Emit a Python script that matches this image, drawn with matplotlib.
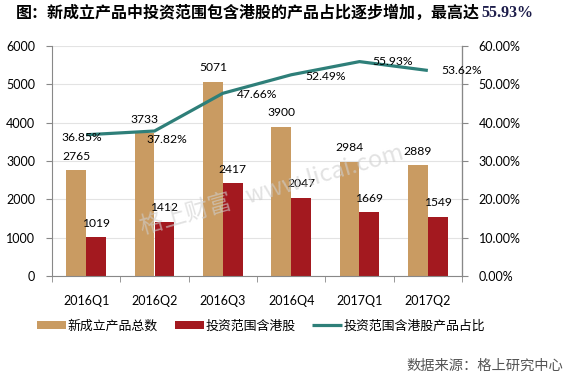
import numpy as np
import matplotlib
matplotlib.use('Agg')
import matplotlib.pyplot as plt
from matplotlib.ticker import FuncFormatter, FixedLocator

plt.rcParams['font.family'] = ['Noto Sans CJK SC', 'DejaVu Sans']

categories = ['2016Q1', '2016Q2', '2016Q3', '2016Q4', '2017Q1', '2017Q2']
new_products = [2765, 3733, 5071, 3900, 2984, 2889]
hk_products = [1019, 1412, 2417, 2047, 1669, 1549]
hk_share = [36.85, 37.82, 47.66, 52.49, 55.93, 53.62]

TAN = '#C99B62'
RED = '#A3191F'
TEAL = '#2E7F79'
NUM_FONT = ['Lato', 'DejaVu Sans']

fig = plt.figure(figsize=(5.67, 3.8), dpi=100)
ax = fig.add_axes([52 / 567, 1 - 276 / 380, 410 / 567, 230 / 380])
ax2 = ax.twinx()

x = np.arange(len(categories))
w = 0.29
bars1 = ax.bar(x - w / 2, new_products, w, color=TAN, label='新成立产品总数', zorder=2)
bars2 = ax.bar(x + w / 2, hk_products, w, color=RED, label='投资范围含港股', zorder=2)

ax.set_xlim(-0.5, len(categories) - 0.5)
ax.set_ylim(0, 6000)
ax.set_yticks(np.arange(0, 6001, 1000))
ax.grid(axis='y', color='#e3e3e3', linewidth=0.8, zorder=0)
ax.set_axisbelow(True)

ax.set_xticks(x)
ax.set_xticklabels(categories, fontsize=9, family=NUM_FONT)
ax.xaxis.set_minor_locator(FixedLocator(np.arange(-0.5, len(categories), 1)))
ax.tick_params(axis='x', which='major', length=0, pad=14)
ax.tick_params(axis='x', which='minor', length=4, color='#888888', direction='out')
ax.tick_params(axis='y', length=4, color='#888888', labelsize=9, pad=8)
for lab in ax.get_yticklabels():
    lab.set_family(NUM_FONT)

for s in ['top']:
    ax.spines[s].set_visible(False)
    ax2.spines[s].set_visible(False)
for s in ['left', 'bottom']:
    ax.spines[s].set_color('#888888')
ax2.spines['right'].set_color('#888888')
ax2.spines['left'].set_visible(False)
ax2.spines['bottom'].set_visible(False)

for b, v in zip(bars1, new_products):
    ax.annotate(str(v), (b.get_x() + b.get_width() / 2, v), xytext=(0, 10),
                textcoords='offset points', ha='center', va='center',
                fontsize=8.7, family=NUM_FONT)
for b, v in zip(bars2, hk_products):
    ax.annotate(str(v), (b.get_x() + b.get_width() / 2, v), xytext=(0, 10),
                textcoords='offset points', ha='center', va='center',
                fontsize=8.7, family=NUM_FONT)

line, = ax2.plot(x, hk_share, color=TEAL, linewidth=2.3, label='投资范围含港股产品占比',
                 solid_capstyle='butt', zorder=3)
ax2.set_ylim(0, 60)
ax2.set_yticks(np.arange(0, 61, 10))
ax2.yaxis.set_major_formatter(FuncFormatter(lambda v, p: '%.2f%%' % v))
ax2.tick_params(axis='y', length=4, color='#888888', labelsize=9, pad=8)
for lab in ax2.get_yticklabels():
    lab.set_family(NUM_FONT)

# label offsets (points) for the share line
offsets = [(-3, -2), (9, -6), (25, -1), (25, -1), (24, 0), (24, 0)]
for xi, v, off in zip(x, hk_share, offsets):
    ax2.annotate('%.2f%%' % v, (xi, v), xytext=off, textcoords='offset points',
                 ha='center', va='center', fontsize=8.7, family=NUM_FONT, zorder=4)

# watermark
fig.text(0.48, 0.50, '格上财富   www.licai.com', rotation=16, fontsize=17,
         color='#cfcfcf', alpha=0.6, ha='center', va='center', zorder=0)

fig.text(16 / 567, 1 - 13 / 380, '图：新成立产品中投资范围包含港股的产品占比逐步增加，最高达',
         fontsize=11.5, fontweight='bold', ha='left', va='center')
fig.text(481 / 567, 1 - 13 / 380, '55.93%', fontsize=11.5, fontweight='bold',
         family=['Liberation Serif', 'DejaVu Serif'], color='#1c1c4a',
         ha='left', va='center')

fig.legend(handles=[bars1, bars2, line], loc='center', bbox_to_anchor=(0.46, 1 - 326 / 380),
           ncol=3, frameon=False, fontsize=9.3, handlelength=2.3, handleheight=0.6,
           handletextpad=0.1, columnspacing=1.3)

fig.text(563 / 567, 1 - 366 / 380, '数据来源：格上研究中心', fontsize=10.3,
         color='#555555', ha='right', va='center')

fig.savefig('out.png', dpi=100)
